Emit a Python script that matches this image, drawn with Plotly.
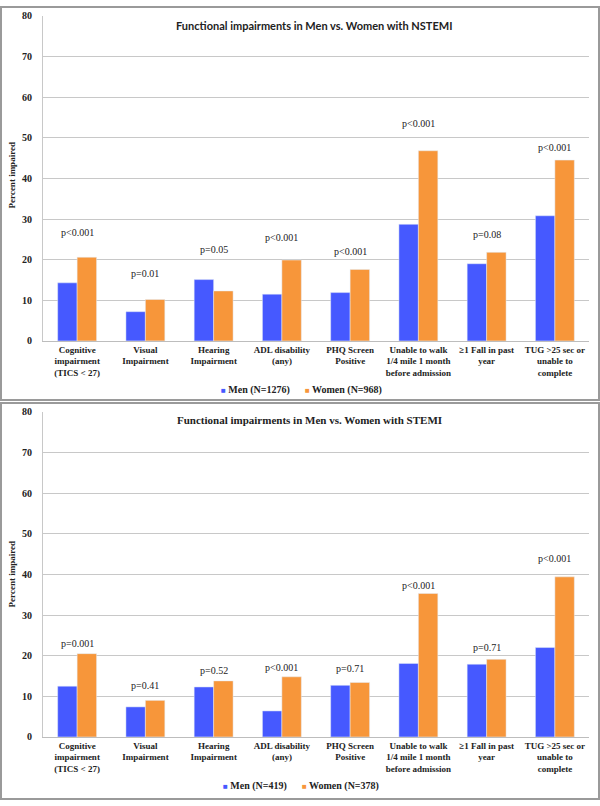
import plotly.graph_objects as go

# categories shared by both panels
categories = [
    "Cognitive<br>impairment<br>(TICS &lt; 27)",
    "Visual<br>Impairment",
    "Hearing<br>Impairment",
    "ADL disability<br>(any)",
    "PHQ Screen<br>Positive",
    "Unable to walk<br>1/4 mile 1 month<br>before admission",
    "≥1 Fall in past<br>year",
    "TUG >25 sec or<br>unable to<br>complete",
]

# NSTEMI panel
men_nstemi = [14.3, 7.2, 15.1, 11.5, 11.9, 28.7, 19.0, 30.8]
women_nstemi = [20.6, 10.2, 12.3, 19.9, 17.6, 46.8, 21.8, 44.5]
p_nstemi = ["p&lt;0.001", "p=0.01", "p=0.05", "p&lt;0.001", "p&lt;0.001", "p&lt;0.001", "p=0.08", "p&lt;0.001"]
p_nstemi_y = [26.6, 16.5, 22.6, 25.4, 22.0, 53.4, 26.3, 47.6]

# STEMI panel
men_stemi = [12.5, 7.4, 12.3, 6.4, 12.7, 18.1, 17.9, 22.0]
women_stemi = [20.5, 9.0, 13.8, 14.8, 13.4, 35.3, 19.1, 39.4]
p_stemi = ["p=0.001", "p=0.41", "p=0.52", "p&lt;0.001", "p=0.71", "p&lt;0.001", "p=0.71", "p&lt;0.001"]
p_stemi_y = [22.9, 12.7, 16.3, 17.2, 16.8, 37.3, 22.1, 44.0]

y_ticks = [0, 10, 20, 30, 40, 50, 60, 70, 80]

BLUE = "#4659FF"
ORANGE = "#F7963A"
SERIF = "Liberation Serif, Times New Roman, serif"
W, H = 600, 806


def py(px_y):
    # pixel row (from top) -> paper coordinate
    return 1 - px_y / H


fig = go.Figure()

panels = [
    dict(men=men_nstemi, women=women_nstemi, p=p_nstemi, p_y=p_nstemi_y,
         men_name="Men (N=1276)", women_name="Women (N=968)",
         xa="x", ya="y", legend_y=390),
    dict(men=men_stemi, women=women_stemi, p=p_stemi, p_y=p_stemi_y,
         men_name="Men (N=419)", women_name="Women (N=378)",
         xa="x2", ya="y2", legend_y=792),
]

annotations = []
for pan in panels:
    fig.add_trace(go.Bar(x=categories, y=pan["men"], name=pan["men_name"], marker_color=BLUE,
                         showlegend=False, xaxis=pan["xa"], yaxis=pan["ya"]))
    fig.add_trace(go.Bar(x=categories, y=pan["women"], name=pan["women_name"], marker_color=ORANGE,
                         showlegend=False, xaxis=pan["xa"], yaxis=pan["ya"]))
    for cat, txt, yy in zip(categories, pan["p"], pan["p_y"]):
        annotations.append(dict(x=cat, y=yy, xref=pan["xa"], yref=pan["ya"], text=txt,
                                showarrow=False, yanchor="middle",
                                font=dict(family=SERIF, size=10, color="#222")))
    # compact legend like the original (small squares close to the labels)
    legend_text = (f"<span style='color:{BLUE};font-size:8px'>■</span> {pan['men_name']}      "
                   f"<span style='color:{ORANGE};font-size:8px'>■</span> {pan['women_name']}")
    annotations.append(dict(x=301 / W, y=py(pan["legend_y"]), xref="paper", yref="paper",
                            text=legend_text, showarrow=False, xanchor="center", yanchor="middle",
                            font=dict(family=SERIF, size=10, color="#222", weight="bold")))

x_dom = [43 / W, 589 / W]
axis_common = dict(range=[0, 80], tickvals=y_ticks, showgrid=True, gridcolor="#c8c8c8", gridwidth=1,
                   showline=True, linecolor="#c8c8c8", linewidth=1, zeroline=False, ticks="",
                   ticklabelstandoff=8,
                   tickfont=dict(family=SERIF, size=10, color="#222", weight="bold"))
xaxis_common = dict(showline=True, linecolor="#bdbdbd", linewidth=1, ticks="", showgrid=False,
                    tickfont=dict(family=SERIF, size=9, color="#222", weight="bold"), tickangle=0)

fig.update_layout(
    width=W, height=H,
    margin=dict(l=0, r=0, t=0, b=0),
    paper_bgcolor="white", plot_bgcolor="white",
    barmode="group", bargap=0.43, bargroupgap=0,
    xaxis=dict(domain=x_dom, anchor="y", **xaxis_common),
    yaxis=dict(domain=[py(340), py(10)], anchor="x", **axis_common),
    xaxis2=dict(domain=x_dom, anchor="y2", **xaxis_common),
    yaxis2=dict(domain=[py(742), py(412)], anchor="x2", **axis_common),
    showlegend=False,
)

# panel titles and y-axis titles
annotations += [
    dict(x=314 / W, y=py(20), xref="paper", yref="paper", showarrow=False,
         xanchor="center", yanchor="middle",
         text="Functional impairments in Men vs. Women with NSTEMI",
         font=dict(family="Liberation Sans Narrow, Lato, Arial, sans-serif", size=11, color="#222",
                   weight="bold")),
    dict(x=309 / W, y=py(420), xref="paper", yref="paper", showarrow=False,
         xanchor="center", yanchor="middle",
         text="Functional impairments in Men vs. Women with STEMI",
         font=dict(family=SERIF, size=11, color="#222", weight="bold")),
    dict(x=12 / W, y=py(172), xref="paper", yref="paper", showarrow=False, textangle=-90,
         xanchor="center", yanchor="middle",
         text="Percent impaired", font=dict(family=SERIF, size=9, color="#222", weight="bold")),
    dict(x=12 / W, y=py(577), xref="paper", yref="paper", showarrow=False, textangle=-90,
         xanchor="center", yanchor="middle",
         text="Percent impaired", font=dict(family=SERIF, size=9, color="#222", weight="bold")),
]
fig.update_layout(annotations=annotations)

# panel frames
fig.update_layout(shapes=[
    dict(type="rect", xref="paper", yref="paper", x0=1 / W, x1=599 / W, y0=py(400), y1=py(1),
         line=dict(color="#9a9a9a", width=2)),
    dict(type="rect", xref="paper", yref="paper", x0=1 / W, x1=599 / W, y0=py(805), y1=py(403),
         line=dict(color="#9a9a9a", width=2)),
])

fig.write_html("out.html", config={"displayModeBar": False},
               post_script="document.body.style.margin='0';document.body.style.overflow='hidden';")
